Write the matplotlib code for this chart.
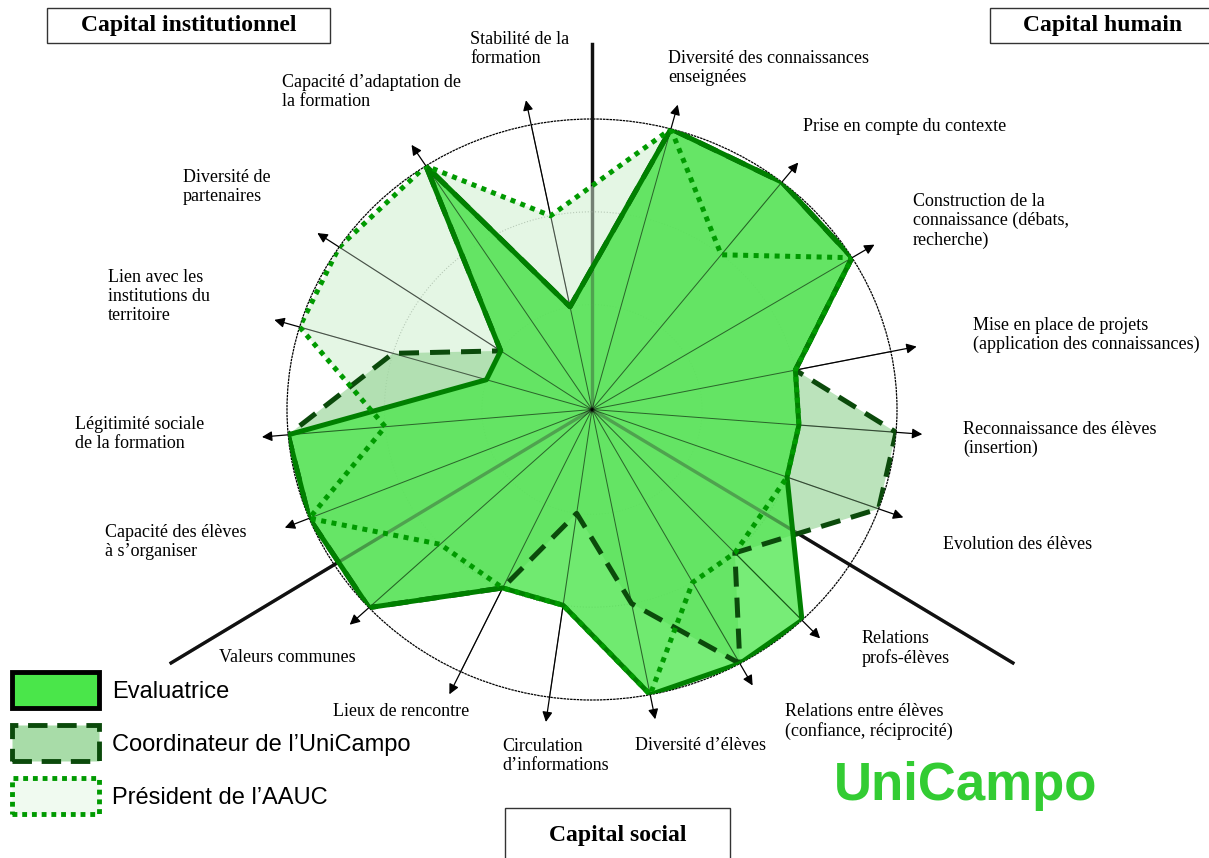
import numpy as np
import matplotlib.pyplot as plt
from matplotlib.patches import Patch, Rectangle

# radar data (scale 1..3), clockwise from the spoke just right of north
categories = ["Diversité des connaissances\nenseignées", "Prise en compte du contexte",
              "Construction de la\nconnaissance (débats,\nrecherche)",
              "Mise en place de projets\n(application des connaissances)",
              "Reconnaissance des élèves\n(insertion)", "Evolution des élèves",
              "Relations\nprofs-élèves", "Relations entre élèves\n(confiance, réciprocité)",
              "Diversité d’élèves", "Circulation\nd’informations", "Lieux de rencontre",
              "Valeurs communes", "Capacité des élèves\nà s’organiser",
              "Légitimité sociale\nde la formation", "Lien avec les\ninstitutions du\nterritoire",
              "Diversité de\npartenaires", "Capacité d’adaptation de\nla formation",
              "Stabilité de la\nformation"]
evaluatrice = [3, 3, 3, 2, 2, 2, 3, 3, 3, 2, 2, 3, 3, 3, 1, 1, 3, 1]
coordinateur = [3, 3, 3, 2, 3, 3, 2, 3, 2, 1, 2, 3, 3, 3, 2, 1, 3, 1]
president = [3, 2, 3, 2, 2, 2, 2, 2, 3, 2, 2, 2, 3, 2, 3, 3, 3, 2]
series_names = ["Evaluatrice", "Coordinateur de l’UniCampo", "Président de l’AAUC"]

# layout: spoke directions (degrees, clockwise from north) as drawn in the original,
# and label positions in pixels (left, top), placed by hand like the original
spoke_deg = [15, 38.5, 58.5, 78.5, 94.5, 110, 136.5, 151, 169, 188, 205.5, 227,
             248, 265, 286.5, 304, 327, 348.5]
label_pos = [(668, 50), (803, 118), (913, 193), (973, 317), (963, 421), (943, 536),
             (862, 630), (785, 703), (635, 737), (502, 738), (333, 703), (219, 649),
             (105, 524), (75, 416), (108, 269), (183, 169), (282, 74), (470, 31)]

W, H = 1209, 858
fig = plt.figure(figsize=(W / 100, H / 100), dpi=100)
fig.patch.set_facecolor('white')

def px(x, y):
    return x / W, 1 - y / H

ax = fig.add_axes([287 / W, 1 - 700 / H, 610 / W, 581 / H], projection='polar')
ax.set_aspect('auto')
ax.set_theta_zero_location('N')
ax.set_theta_direction(-1)
RMIN, RMAX = -0.13, 3
ax.set_ylim(RMIN, RMAX)
ax.patch.set_alpha(0)

theta = np.deg2rad(spoke_deg)
th = np.r_[theta, theta[:1]]

def closed(v):
    return np.r_[v, v[:1]]

ax.set_xticks(theta)
ax.set_xticklabels([])
ax.xaxis.grid(False)
ax.set_yticks([1, 2])
ax.set_yticklabels([])
ax.yaxis.grid(True, linestyle=':', color='#666666', lw=0.8)
ax.spines['polar'].set_linestyle(':')
ax.spines['polar'].set_linewidth(0.9)

# capital dividers (under the fills, and a faint copy above)
div_ang = np.deg2rad([0, 122.3, 237.7])
div_len = [3.81, 4.98, 4.98]
for a, l in zip(div_ang, div_len):
    ax.plot([a, a], [RMIN, l], color='black', lw=2.4, clip_on=False, zorder=1)
    ax.plot([a, a], [RMIN, l], color='#333333', lw=2.4, alpha=0.35, clip_on=False, zorder=4)

# spokes with arrows
TIP = 3.27
for a in theta:
    ax.annotate('', xy=(a, TIP), xytext=(a, RMIN), annotation_clip=False,
                arrowprops=dict(arrowstyle='-|>', color='black', lw=0.9,
                                mutation_scale=15, shrinkA=0, shrinkB=0), zorder=1.5)
    ax.plot([a, a], [RMIN, 3], color='black', lw=0.7, alpha=0.55, zorder=4)

# fills
ax.fill(th, closed(president), color='#d9f3d9', alpha=0.7, lw=0, zorder=2)
ax.fill(th, closed(coordinateur), color='#9ed89e', alpha=0.7, lw=0, zorder=2.5)
ax.fill(th, closed(evaluatrice), color='#4ae64a', alpha=0.75, lw=0, zorder=3)

# outlines
ax.plot(th, closed(coordinateur), color='#0b4a0b', lw=3.6, ls=(0, (4, 2.2)), zorder=5)
ax.plot(th, closed(evaluatrice), color='#008000', lw=3.6, zorder=6)
ax.plot(th, closed(president), color='#009a00', lw=3.6, ls=(0, (1, 1.1)), zorder=7)

# category labels
for lab, (x, y) in zip(categories, label_pos):
    fig.text(*px(x, y), lab, ha='left', va='top', fontsize=13,
             family='Liberation Serif', linespacing=1.15)

# capital boxes
boxes = [("Capital institutionnel", 47, 8, 283, 35),
         ("Capital humain", 990, 8, 230, 35),
         ("Capital social", 505, 808, 225, 60)]
for txt, x, y, w, h in boxes:
    fig.add_artist(Rectangle(px(x, y + h), w / W, h / H, transform=fig.transFigure,
                             fill=False, lw=1.0, edgecolor='#333333'))
    ty = y + 18 if txt != "Capital social" else 836
    fig.text(*px(x + w / 2 if txt != "Capital humain" else 1103, ty), txt,
             ha='center', va='center', fontsize=17, fontweight='bold',
             family='Liberation Serif')

fig.text(*px(966, 786), "UniCampo", ha='center', va='center', fontsize=38,
         fontweight='bold', color='#33cc33', family='Liberation Sans')

handles = [Patch(facecolor='#4ae64a', edgecolor='black', lw=3.5),
           Patch(facecolor='#a8dca8', edgecolor='#0b4a0b', lw=3.5, linestyle=(0, (4, 2))),
           Patch(facecolor='#f0faf0', edgecolor='#009a00', lw=3.5, linestyle=(0, (1, 1)))]
fig.legend(handles, series_names, loc='upper left', bbox_to_anchor=px(12, 672),
           frameon=False, borderpad=0, borderaxespad=0, handlelength=3.7,
           handleheight=2.0, handletextpad=0.55, labelspacing=0.7,
           prop={'family': 'Liberation Sans', 'size': 17})

fig.savefig('out.png', dpi=100)
